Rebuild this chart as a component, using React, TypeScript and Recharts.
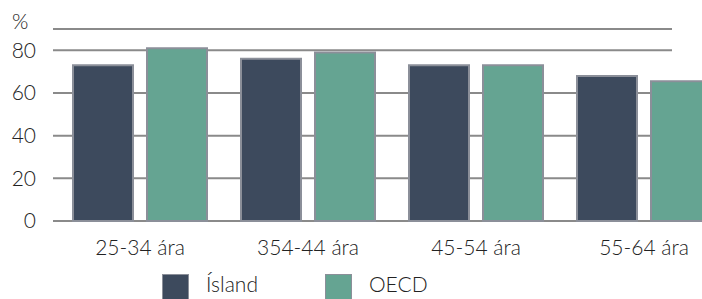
// Employment rate by age group – Ísland vs OECD

import React from "react";
import { BarChart, Bar, XAxis, YAxis, CartesianGrid } from "recharts";

const ageGroups = ["25-34 ára", "354-44 ára", "45-54 ára", "55-64 ára"];
const islandValues = [73, 76, 73, 68];
const oecdValues = [81, 79, 73, 65.5];
const yTicks = [0, 20, 40, 60, 80];

const seriesNames = { island: "Ísland", oecd: "OECD" };
const colors = { island: "#3d4a5d", oecd: "#65a492", edge: "#8b8f99", grid: "#8a8a8a" };

const data = ageGroups.map((group, i) => ({
  group,
  island: islandValues[i],
  oecd: oecdValues[i],
}));

const font = "Lato, 'Open Sans', sans-serif";
const GRID_END = 672; // gridlines stop short of the plot's right edge

// horizontal gridline, shortened at the right like the original
function GridLine(props: any) {
  const { x1, y1, y2 } = props;
  return (
    <line
      x1={x1 - 3}
      x2={GRID_END}
      y1={y1}
      y2={y2}
      stroke={colors.grid}
      strokeWidth={2}
    />
  );
}

function LegendRow() {
  const items = [
    { name: seriesNames.island, color: colors.island },
    { name: seriesNames.oecd, color: colors.oecd },
  ];
  return (
    <div
      style={{
        position: "absolute",
        left: 162,
        top: 263,
        display: "flex",
        fontFamily: font,
        fontWeight: 300,
        fontSize: 21,
        color: "#222",
      }}
    >
      {items.map((it, i) => (
        <div
          key={it.name}
          style={{ display: "flex", alignItems: "flex-start", marginRight: i === 0 ? 67 : 0 }}
        >
          <div
            style={{
              width: 25,
              height: 30,
              marginTop: 11,
              background: it.color,
              border: `1px solid ${colors.edge}`,
              marginRight: 17,
            }}
          />
          <span style={{ lineHeight: "42px" }}>{it.name}</span>
        </div>
      ))}
    </div>
  );
}

export default function App() {
  return (
    <div
      style={{
        position: "relative",
        width: 702,
        height: 299,
        overflow: "hidden",
      }}
    >
      <style>{"body { margin: 0; }"}</style>
      <div
        style={{
          position: "absolute",
          left: 12,
          top: 9,
          fontFamily: font,
          fontWeight: 300,
          fontSize: 21,
          color: "#222",
          lineHeight: "24px",
        }}
      >
        %
      </div>
      <BarChart
        width={728}
        height={299}
        data={data}
        margin={{ top: 29, right: 0, bottom: 0, left: 0 }}
        barGap={14}
        barSize={60}
      >
        <CartesianGrid vertical={false} horizontal={(p: any) => <GridLine key={p.key} {...p} />} />
        <XAxis
          dataKey="group"
          axisLine={false}
          tickLine={false}
          tickSize={0}
          tickMargin={19}
          height={78}
          interval={0}
          tick={{ fontFamily: font, fontWeight: 300, fontSize: 21, fill: "#222" }}
        />
        <YAxis
          domain={[0, 90]}
          ticks={yTicks}
          axisLine={false}
          tickLine={false}
          tickSize={0}
          tickMargin={20}
          width={56}
          tick={{ fontFamily: font, fontWeight: 300, fontSize: 21, fill: "#222" }}
        />
        <Bar
          dataKey="island"
          name={seriesNames.island}
          fill={colors.island}
          stroke={colors.edge}
          strokeWidth={2}
          isAnimationActive={false}
        />
        <Bar
          dataKey="oecd"
          name={seriesNames.oecd}
          fill={colors.oecd}
          stroke={colors.edge}
          strokeWidth={2}
          isAnimationActive={false}
        />
      </BarChart>
      <LegendRow />
    </div>
  );
}
